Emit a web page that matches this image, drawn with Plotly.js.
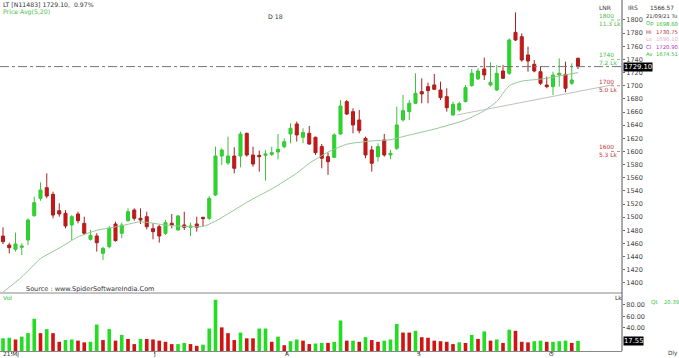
<!DOCTYPE html>
<html>
<head>
<meta charset="utf-8">
<script src="https://cdn.plot.ly/plotly-3.0.1.min.js"></script>
<style>html,body{margin:0;padding:0;background:#fff;}#chart{width:679px;height:358px;}</style>
</head>
<body>
<div id="chart"></div>
<script>
// ---- data ----
const opens = [1471.4,1457.7,1451.1,1454.2,1465.3,1502.3,1528.7,1544.9,1534.8,1509.9,1505.9,1488.1,1504.9,1490.7,1466.3,1471.4,1445.0,1455.2,1489.6,1475.5,1494.7,1510.9,1498.3,1500.8,1482.6,1485.6,1475.5,1490.7,1480.6,1488.2,1484.6,1489.7,1499.8,1498.3,1533.8,1593.1,1582.5,1593.1,1593.1,1627.6,1594.6,1594.1,1594.1,1595.6,1599.2,1607.3,1626.6,1641.8,1621.6,1627.6,1621.6,1607.4,1592.1,1591.1,1626.6,1675.8,1660.6,1647.9,1620.0,1602.3,1592.1,1617.5,1594.7,1604.8,1648.0,1660.6,1673.3,1691.0,1698.6,1701.2,1693.5,1683.4,1655.5,1663.1,1675.8,1700.1,1710.3,1725.5,1701.1,1693.5,1722.4,1718.9,1781.2,1774.6,1746.8,1732.6,1721.4,1701.1,1698.6,1716.3,1717.3,1703.7,1741.7];
const highs = [1484.6,1461.2,1476.5,1460.2,1498.3,1531.2,1553.0,1566.7,1538.8,1521.1,1510.9,1503.3,1508.4,1500.8,1480.5,1475.5,1455.2,1486.6,1493.2,1491.7,1513.5,1513.5,1513.5,1508.4,1490.7,1488.2,1495.8,1504.9,1503.4,1508.4,1491.7,1500.8,1500.8,1532.3,1607.3,1604.8,1622.5,1606.3,1630.1,1628.6,1607.3,1601.2,1602.2,1607.3,1626.6,1620.0,1642.8,1645.4,1635.2,1638.8,1622.6,1611.4,1598.2,1627.6,1678.3,1678.3,1665.7,1663.1,1622.6,1608.4,1612.4,1626.6,1602.3,1668.2,1685.9,1678.3,1718.9,1711.3,1704.7,1717.9,1706.2,1696.1,1675.8,1675.8,1701.1,1725.5,1726.5,1742.7,1735.6,1731.5,1731.5,1772.1,1811.6,1779.7,1759.4,1739.1,1729.0,1713.8,1721.4,1741.7,1736.6,1734.1,1742.7];
const lows = [1459.2,1445.0,1447.6,1442.5,1457.7,1500.8,1525.0,1528.7,1498.3,1500.8,1483.0,1465.3,1490.7,1473.0,1464.3,1447.6,1434.9,1452.6,1462.8,1467.8,1493.2,1494.7,1489.6,1481.5,1466.4,1461.3,1473.0,1483.1,1479.5,1480.6,1471.4,1478.0,1486.6,1495.8,1532.3,1579.4,1579.4,1566.8,1575.9,1592.1,1576.9,1569.3,1555.6,1593.1,1588.0,1604.8,1612.4,1615.0,1612.4,1609.9,1594.7,1574.4,1564.3,1589.6,1625.1,1655.5,1627.6,1627.6,1589.6,1569.3,1584.5,1592.1,1588.1,1602.3,1645.4,1647.9,1672.3,1673.3,1673.3,1693.6,1678.3,1660.6,1654.5,1660.6,1674.8,1698.6,1708.8,1708.8,1698.6,1692.0,1710.3,1716.3,1768.0,1736.6,1721.4,1720.4,1701.1,1696.1,1685.9,1698.6,1690.0,1701.1,1725.5];
const closes = [1462.8,1453.6,1459.2,1456.2,1495.7,1522.1,1541.4,1532.2,1503.3,1504.9,1486.6,1500.8,1494.7,1475.5,1472.4,1461.2,1452.6,1483.0,1464.3,1488.1,1508.4,1498.3,1495.7,1485.6,1478.0,1471.4,1491.7,1488.2,1501.9,1484.6,1486.6,1484.6,1497.8,1528.7,1593.1,1602.2,1593.1,1574.4,1626.6,1594.6,1580.9,1592.1,1596.2,1598.2,1603.3,1614.9,1635.2,1625.1,1628.7,1611.4,1598.2,1589.6,1584.5,1625.1,1669.2,1657.0,1640.3,1631.7,1594.7,1582.0,1607.4,1594.7,1597.2,1640.3,1662.1,1673.3,1688.5,1687.5,1692.5,1694.6,1681.9,1666.6,1671.7,1672.7,1697.1,1718.9,1722.4,1716.3,1705.2,1718.9,1711.3,1769.6,1769.6,1739.1,1737.6,1722.4,1703.7,1698.6,1716.3,1718.9,1696.1,1708.7,1729.1];
const volumes = [22,23,20,25,31,56,31,38,31,16,19,20,18,15,16,46,19,38,18,28,21,12,21,21,20,18,16,12,12,14,12,9,11,39,89,41,31,19,32,22,22,39,39,16,25,10,17,20,18,12,13,14,14,16,53,18,18,16,24,19,16,18,20,47,32,32,35,24,23,18,17,16,12,15,14,28,21,34,18,20,14,37,35,16,15,17,18,16,16,17,18,14,17.55];
const volumeUp = [1,1,0,1,1,1,0,1,0,0,1,1,0,0,1,1,0,1,0,1,0,0,1,0,0,0,0,0,1,1,0,0,1,1,1,0,0,0,1,0,0,1,1,0,1,0,1,1,0,0,1,1,0,1,1,0,1,0,1,0,0,1,1,1,0,0,1,0,0,0,0,0,0,1,0,1,0,1,0,1,0,1,0,0,0,1,1,0,1,1,1,0,1];
// 20-period price average, read at sample sessions
const avgSession = [0,3,6,9,12,15,19,22,26,29,32,34,37,40,43,47,49,52,55,59,62,65,69,74,77,79,81,83,86,88,92];
const avgValue = [1386,1409,1437,1453,1470,1480,1487,1493,1488,1486,1486,1494,1511,1528,1543,1567,1582,1599,1611,1616,1618,1625,1634,1648,1662,1676,1700,1707,1710,1713,1720];
// drawn support trendline (session, price)
const trendSession = [72.6, 97.6];
const trendValue = [1655.5, 1701.5];
// month labels
const monthPos = [1.3, 24.3, 45.4, 66.6, 87.7];
const monthText = ['21:MJ', 'J', 'A', 'S', 'O'];
const priceTicks = [1400,1420,1440,1460,1480,1500,1520,1540,1560,1580,1600,1620,1640,1660,1680,1700,1720,1740,1760,1780,1800];
const volTicks = [40, 60, 80];
// volume-at-price labels
const vpPrice = [1800, 1740, 1700, 1600];
const vpQty = ['11.3 Lk', '7.2 Lk', '5.0 Lk', '5.3 Lk'];
const vpUp = [1, 1, 0, 0];
// info panel
const infoRows = [['Op', '1698.60'], ['Hi', '1730.75'], ['Lo', '1696.10'], ['Cl', '1720.90'], ['Av', '1674.51']];

// ---- drawing ----
const W = 679, H = 358, ML = 0, MR = 57, MT = 0, MB = 7;
const PW = W - ML - MR, PH = H - MT - MB;
const px = x => (x - ML) / PW;
const py = y => (H - MB - y) / PH;
const FONT = 'DejaVu Sans';
const GREEN = '#22dd22', RED = '#d01414';
const sessions = closes.map((_, i) => i);

const traces = [
  {type: 'candlestick', x: sessions, open: opens, high: highs, low: lows, close: closes,
   xaxis: 'x', yaxis: 'y', whiskerwidth: 0, hoverinfo: 'skip',
   increasing: {line: {color: '#3cc43c', width: 1}, fillcolor: GREEN},
   decreasing: {line: {color: '#a82020', width: 1}, fillcolor: RED}},
  {type: 'scatter', mode: 'lines', x: avgSession, y: avgValue, xaxis: 'x', yaxis: 'y',
   line: {color: '#94c894', width: 1, shape: 'spline', smoothing: 0.6}, hoverinfo: 'skip'},
  {type: 'scatter', mode: 'lines', x: trendSession, y: trendValue, xaxis: 'x', yaxis: 'y',
   line: {color: '#c0c0c0', width: 1}, hoverinfo: 'skip'},
  {type: 'bar', x: sessions, y: volumes, xaxis: 'x', yaxis: 'y2', width: 0.58,
   marker: {color: volumeUp.map(u => u ? GREEN : RED), line: {width: 0}}, hoverinfo: 'skip'}
];

const ann = [];
const txt = (x, y, text, color, size, anchor) => ann.push({xref: 'paper', yref: 'paper', x: px(x), y: py(y), text: text,
  showarrow: false, xanchor: anchor || 'left', yanchor: 'middle', font: {family: FONT, size: size || 6.5, color: color || '#222'}});

txt(1, 4, 'LT [N11483] 1729.10,  0.97%', '#333', 6.2);
txt(1, 12, 'Price Avg(5,20)', '#44c044', 6.2);
txt(266, 16, 'D 18', '#333', 6.2);
txt(24, 289, 'Source : www.SpiderSoftwareIndia.Com', '#333', 6.5);
txt(1, 297, 'Vol', '#44c044', 6);
txt(613, 297, 'Lk', '#333', 6);
txt(597, 8, 'LNR', '#333', 6);
txt(626, 8, 'IRS', '#333', 6);
txt(648, 8, '1566.57', '#333', 5.8);
txt(644, 16, '21/09/21 Tu', '#333', 5.3);
const infoColors = ['#33bb33', '#b03030', '#e8b0c8', '#b030b0', '#33bb33'];
infoRows.forEach((r, k) => {
  txt(644, 24 + k * 7.6, r[0], infoColors[k], 5.3);
  txt(654, 24 + k * 7.6, r[1], infoColors[k], 5.3);
});
txt(649, 302, 'Qt', '#44c044', 5.6);
txt(662, 302, '20.39', '#44c044', 5.3);
txt(666, 353.5, 'Dly', '#333', 5.8);
monthPos.forEach((p, k) => ann.push({xref: 'x', yref: 'paper', x: p, y: py(354), text: monthText[k], showarrow: false,
  xanchor: 'center', yanchor: 'middle', font: {family: FONT, size: 5.8, color: '#333'}}));

vpPrice.forEach((p, k) => {
  const c = vpUp[k] ? '#44c044' : '#c03030';
  ann.push({xref: 'paper', yref: 'y', x: px(597), y: p, text: String(p) + '<br>' + vpQty[k], showarrow: false,
    xanchor: 'left', yanchor: 'middle', align: 'left', font: {family: FONT, size: 5.9, color: c}});
});

const last = closes.length - 1;
ann.push({xref: 'paper', yref: 'y', x: 1, y: closes[last], text: closes[last].toFixed(2), showarrow: false,
  xanchor: 'left', yanchor: 'middle', bgcolor: '#000', borderpad: 0, xshift: 1, font: {family: FONT, size: 6.8, color: '#fff'}});
ann.push({xref: 'paper', yref: 'y2', x: 1, y: volumes[last], text: volumes[last].toFixed(2), showarrow: false,
  xanchor: 'left', yanchor: 'middle', bgcolor: '#000', borderpad: 0, xshift: 1, font: {family: FONT, size: 6.8, color: '#fff'}});

const shapes = [
  {type: 'line', xref: 'paper', yref: 'y', x0: 0, x1: 1, y0: closes[last], y1: closes[last],
   line: {color: '#777', width: 1, dash: 'dashdot'}},
  {type: 'line', xref: 'paper', yref: 'paper', x0: 0, x1: 1, y0: py(293), y1: py(293), line: {color: '#888', width: 1}},
  {type: 'line', xref: 'paper', yref: 'paper', x0: 1, x1: 1, y0: 0, y1: 1, line: {color: '#555', width: 1}}
];
vpPrice.forEach((p, k) => shapes.push({type: 'line', xref: 'paper', yref: 'y', x0: px(611), x1: 1, y0: p, y1: p,
  line: {color: vpUp[k] ? '#88cc88' : '#cc8888', width: 1, dash: 'dot'}}));

const layout = {
  width: W, height: H, margin: {l: ML, r: MR, t: MT, b: MB},
  paper_bgcolor: '#fff', plot_bgcolor: '#fff', showlegend: false,
  xaxis: {range: [-0.48, 99.04], anchor: 'y2', showgrid: false, zeroline: false, rangeslider: {visible: false},
    showline: true, linecolor: '#888', linewidth: 1, tickmode: 'array', tickvals: monthPos, showticklabels: false,
    ticks: 'outside', ticklen: 2, tickcolor: '#888'},
  yaxis: {domain: [py(293), 1], range: [1384.7, 1830.4], side: 'right', anchor: 'x', showgrid: false, zeroline: false,
    tickmode: 'array', tickvals: priceTicks, ticktext: priceTicks.map(String), ticks: 'outside', ticklen: 2,
    tickcolor: '#666', tickfont: {family: FONT, size: 6.5, color: '#444'}, showline: false},
  yaxis2: {domain: [0, py(294)], range: [0, 99], side: 'right', anchor: 'x', showgrid: false, zeroline: false,
    tickmode: 'array', tickvals: volTicks, ticktext: volTicks.map(v => v.toFixed(2)), ticks: 'outside', ticklen: 2,
    tickcolor: '#666', tickfont: {family: FONT, size: 6.5, color: '#444'}, showline: false},
  annotations: ann, shapes: shapes, bargap: 0.4
};

Plotly.newPlot('chart', traces, layout, {displayModeBar: false, staticPlot: true});
</script>
</body>
</html>
